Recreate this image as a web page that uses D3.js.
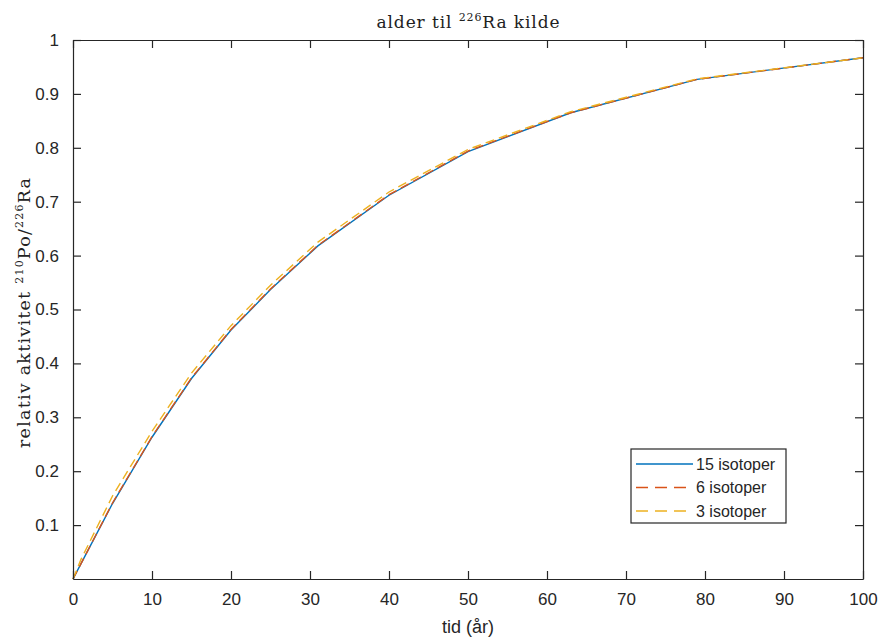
<!DOCTYPE html>
<html>
<head>
<meta charset="utf-8">
<script src="https://cdn.jsdelivr.net/npm/d3@7"></script>
<style>
  body { margin: 0; background: #fff; }
  svg { display: block; }
  .tick text { font-family: "Liberation Sans", Arial, sans-serif; font-size: 17px; fill: #262626; }
  .serif { font-family: "DejaVu Serif", "Liberation Serif", serif; }
</style>
</head>
<body>
<div id="chart"></div>
<script>
// time (years) and relative activity
const tid = [0, 1, 5, 10, 15, 20, 25, 31, 40, 50, 63, 79, 100];
const iso15 = [0, 0.028, 0.140, 0.263, 0.372, 0.462, 0.537, 0.618, 0.712, 0.793, 0.865, 0.927, 0.967];
const iso6 = [0, 0.028, 0.141, 0.264, 0.373, 0.463, 0.538, 0.619, 0.713, 0.794, 0.865, 0.927, 0.967];
const iso3 = [0, 0.036, 0.154, 0.274, 0.382, 0.470, 0.545, 0.625, 0.718, 0.797, 0.867, 0.928, 0.967];
const xTicks = [0, 10, 20, 30, 40, 50, 60, 70, 80, 90, 100];
const yTicks = [0.1, 0.2, 0.3, 0.4, 0.5, 0.6, 0.7, 0.8, 0.9, 1];

const series = [
  {name: '15 isotoper', values: iso15, color: '#0072BD', dash: null},
  {name: '6 isotoper', values: iso6, color: '#D95319', dash: '9,5'},
  {name: '3 isotoper', values: iso3, color: '#EDB120', dash: '9,5'}
];

const margin = {top: 40, right: 18, bottom: 61, left: 73};
const width = 881 - margin.left - margin.right;
const height = 640 - margin.top - margin.bottom;
const axisColor = '#262626';

const svg = d3.select('#chart').append('svg')
  .attr('width', 881)
  .attr('height', 640);

const main = svg.append('g')
  .attr('transform', `translate(${margin.left},${margin.top})`);

const x = d3.scaleLinear().domain([0, 100]).range([0, width]);
const y = d3.scaleLinear().domain([0, 1]).range([height, 0]);

// lines first so the box sits on top
const line = d3.line()
  .x((d, i) => x(tid[i]))
  .y(d => y(d));

series.forEach(s => {
  main.append('path')
    .attr('fill', 'none')
    .attr('stroke', s.color)
    .attr('stroke-width', 1.4)
    .attr('stroke-dasharray', s.dash)
    .attr('d', line(s.values));
});

// axes, ticks pointing inward, box on
const tickLen = 8;
const xAxis = d3.axisBottom(x).tickValues(xTicks).tickSizeInner(-tickLen).tickSizeOuter(0).tickPadding(14);
const yAxis = d3.axisLeft(y).tickValues(yTicks).tickSizeInner(-tickLen).tickSizeOuter(0).tickPadding(14).tickFormat(d3.format('~g'));
const xTop = d3.axisTop(x).tickValues(xTicks).tickSizeInner(-tickLen).tickSizeOuter(0).tickFormat('');
const yRight = d3.axisRight(y).tickValues(yTicks).tickSizeInner(-tickLen).tickSizeOuter(0).tickFormat('');

main.append('g').attr('transform', `translate(0,${height})`).call(xAxis);
main.append('g').call(yAxis);
main.append('g').call(xTop);
main.append('g').attr('transform', `translate(${width},0)`).call(yRight);

main.selectAll('.domain').attr('stroke', axisColor).attr('stroke-width', 1.2);
main.selectAll('.tick line').attr('stroke', axisColor).attr('stroke-width', 1.2);

// title (LaTeX look, pinned to the original width)
const title = svg.append('text')
  .attr('class', 'serif')
  .attr('x', margin.left + width / 2)
  .attr('y', 28)
  .attr('text-anchor', 'middle')
  .attr('font-size', 17)
  .attr('textLength', 183)
  .attr('lengthAdjust', 'spacing')
  .attr('fill', '#222');
title.append('tspan').text('alder til ');
title.append('tspan').attr('font-size', 11).attr('dy', -7).text('226');
title.append('tspan').attr('dy', 7).text('Ra kilde');

// x label
svg.append('text')
  .attr('x', margin.left + width / 2)
  .attr('y', 633)
  .attr('text-anchor', 'middle')
  .attr('font-family', '"Liberation Sans", Arial, sans-serif')
  .attr('font-size', 18)
  .attr('fill', axisColor)
  .text('tid (år)');

// y label
const ylab = svg.append('text')
  .attr('class', 'serif')
  .attr('transform', `translate(30,313) rotate(-90)`)
  .attr('text-anchor', 'middle')
  .attr('font-size', 17.5)
  .attr('textLength', 270)
  .attr('lengthAdjust', 'spacing')
  .attr('fill', '#222');
ylab.append('tspan').text('relativ aktivitet ');
ylab.append('tspan').attr('font-size', 11).attr('dy', -7).text('210');
ylab.append('tspan').attr('dy', 7).text('Po/');
ylab.append('tspan').attr('font-size', 11).attr('dy', -7).text('226');
ylab.append('tspan').attr('dy', 7).text('Ra');

// legend
const legend = svg.append('g').attr('transform', 'translate(631,449)');
legend.append('rect')
  .attr('width', 155).attr('height', 74)
  .attr('fill', '#fff')
  .attr('stroke', axisColor)
  .attr('stroke-width', 1.2);
series.forEach((s, i) => {
  const ly = 15 + i * 23.5;
  legend.append('line')
    .attr('x1', 5).attr('x2', 62)
    .attr('y1', ly).attr('y2', ly)
    .attr('stroke', s.color)
    .attr('stroke-width', 1.4)
    .attr('stroke-dasharray', s.dash ? '12,7' : null);
  legend.append('text')
    .attr('x', 65).attr('y', ly)
    .attr('dy', '0.35em')
    .attr('font-family', '"Liberation Sans", Arial, sans-serif')
    .attr('font-size', 16)
    .attr('fill', axisColor)
    .text(s.name);
});
</script>
</body>
</html>
